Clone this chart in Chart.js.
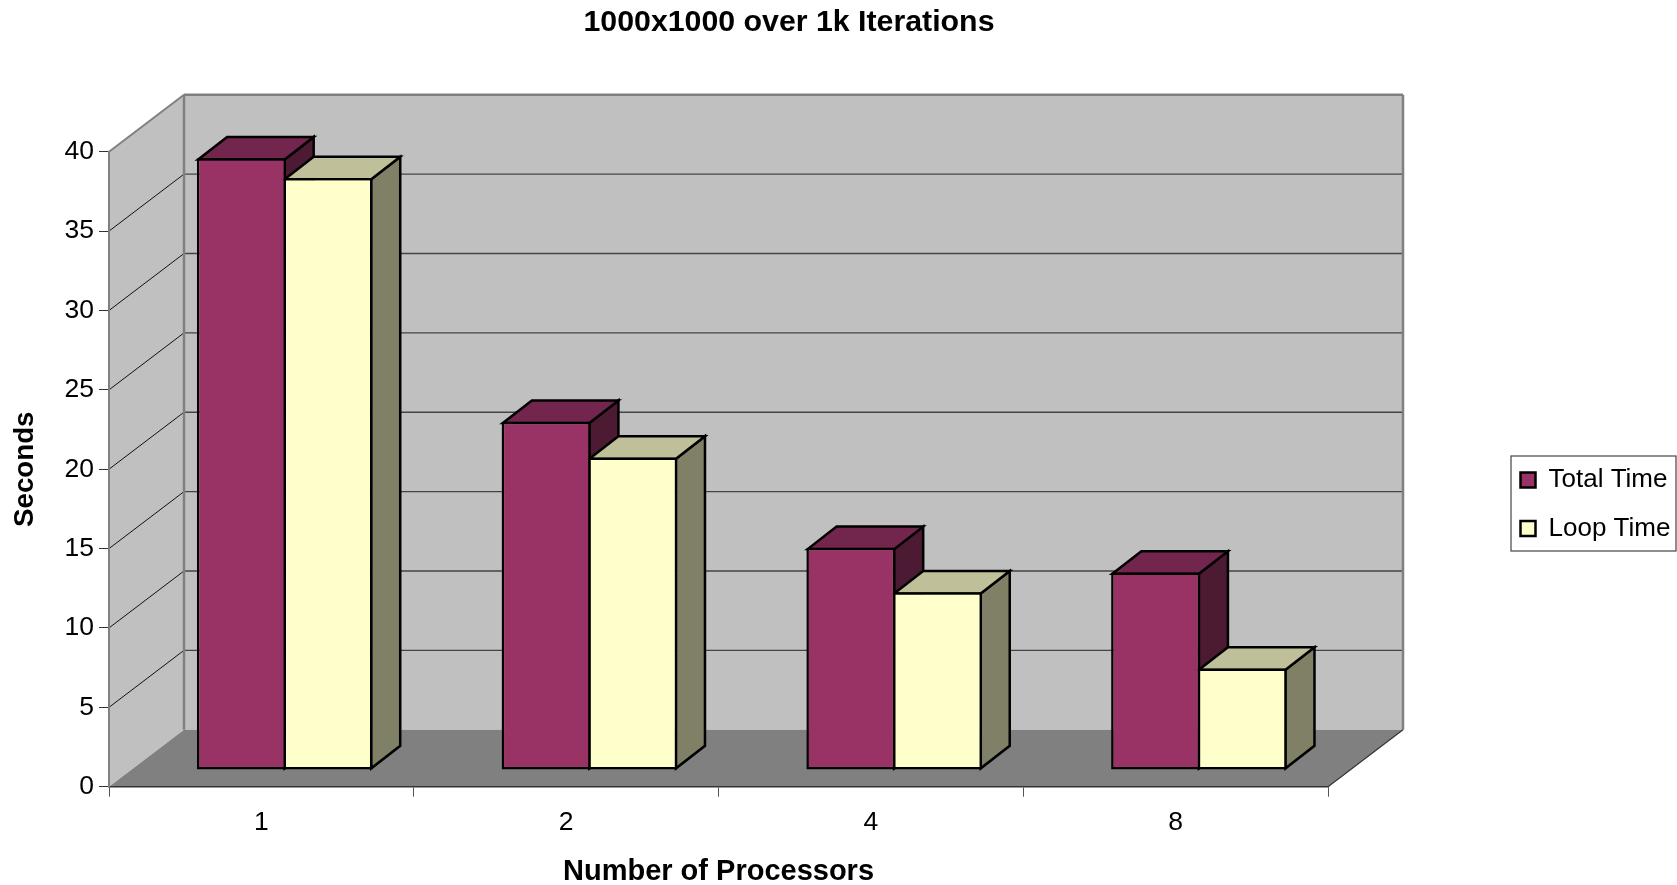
<!DOCTYPE html>
<html>
<head>
<meta charset="utf-8">
<title>1000x1000 over 1k Iterations</title>
<script src="https://cdn.jsdelivr.net/npm/chart.js@4"></script>
<style>
  html, body { margin: 0; padding: 0; background: #fff; }
  canvas { display: block; }
</style>
</head>
<body>
<canvas id="chart" width="1677" height="885"></canvas>
<script>
const processors = ['1', '2', '4', '8'];
const totalTime = [38.55, 21.95, 14.0, 12.45];
const loopTime = [37.3, 19.7, 11.2, 6.4];

const FONT = '"Liberation Sans", Arial, sans-serif';

// oblique depth of the walls and of the bars, in pixels
const wallDepth = { x: 75, y: 57 };
const barDepth = { x: 29, y: 22.5 };
const barShift = { x: 23.3, y: 16.6 };
const barLine = 2.5;
const legendFrame = { x: 1511, y: 456, w: 165, h: 95 };
const legendGap = 22.5;

const faces = {
  'Total Time': { top: '#73264D', side: '#4D1A33' },
  'Loop Time': { top: '#BFBF99', side: '#808066' }
};

function poly(ctx, pts, fill, stroke, lw) {
  ctx.beginPath();
  pts.forEach((p, i) => (i ? ctx.lineTo(p[0], p[1]) : ctx.moveTo(p[0], p[1])));
  ctx.closePath();
  if (fill) { ctx.fillStyle = fill; ctx.fill(); }
  if (stroke) { ctx.strokeStyle = stroke; ctx.lineWidth = lw; ctx.stroke(); }
}

function line(ctx, x1, y1, x2, y2, color, lw) {
  ctx.beginPath();
  ctx.moveTo(x1, y1);
  ctx.lineTo(x2, y2);
  ctx.strokeStyle = color;
  ctx.lineWidth = lw;
  ctx.stroke();
}

const walls = {
  id: 'walls',
  afterLayout(chart) {
    // legend and title sit away from the plot, as in the original sheet
    const lg = chart.legend;
    lg.left = legendFrame.x + 9.5 - legendGap;
    lg.top = legendFrame.y + 11 - legendGap;
    lg.width = 1677 - lg.left;
    lg.height = 885 - lg.top;
    lg.right = 1677;
    lg.bottom = 885;
    const tb = chart.titleBlock;
    tb.left = 0; tb.right = 1578; tb.width = 1578;
  },
  beforeDraw(chart) {
    const ctx = chart.ctx;
    const { left, right, top, bottom } = chart.chartArea;
    const dx = wallDepth.x, dy = wallDepth.y;
    ctx.save();
    poly(ctx, [[left + dx, top - dy], [right + dx, top - dy], [right + dx, bottom - dy], [left + dx, bottom - dy]], '#C0C0C0');
    poly(ctx, [[left, top], [left + dx, top - dy], [left + dx, bottom - dy], [left, bottom]], '#C0C0C0');
    poly(ctx, [[left, bottom], [left + dx, bottom - dy], [right + dx, bottom - dy], [right, bottom]], '#808080');

    chart.scales.y.ticks.forEach((t) => {
      if (t.value === 0 || t.value === 40) return;
      const y = chart.scales.y.getPixelForValue(t.value);
      line(ctx, left, y, left + dx, y - dy, '#111', 1);
      line(ctx, left + dx, y - dy, right + dx, y - dy, '#444', 1.4);
    });

    line(ctx, left, top, left + dx, top - dy, '#808080', 2);
    line(ctx, left + dx, top - dy, right + dx, top - dy, '#808080', 2.5);
    line(ctx, left + dx, top - dy, left + dx, bottom - dy, '#808080', 2.5);
    line(ctx, right + dx, top - dy, right + dx, bottom - dy, '#808080', 2.5);
    line(ctx, right, bottom, right + dx, bottom - dy, '#333', 1.2);

    // legend frame
    ctx.strokeStyle = '#444';
    ctx.lineWidth = 1.2;
    ctx.strokeRect(legendFrame.x, legendFrame.y, legendFrame.w, legendFrame.h);
    ctx.restore();
  },
  beforeDatasetsDraw(chart) {
    const ctx = chart.ctx;
    ctx.save();
    ctx.translate(barShift.x, -barShift.y);
    ctx.lineJoin = 'miter';
    const dx = barDepth.x, dy = barDepth.y, inset = barLine / 2;
    chart.data.datasets.forEach((ds, i) => {
      const f = faces[ds.label];
      chart.getDatasetMeta(i).data.forEach((bar) => {
        const l = bar.x - bar.width / 2 + inset, r = bar.x + bar.width / 2 - inset;
        const y = bar.y + inset, b = bar.base - inset;
        poly(ctx, [[r, y], [r + dx, y - dy], [r + dx, b - dy], [r, b]], f.side, '#000', barLine);
        poly(ctx, [[l, y], [l + dx, y - dy], [r + dx, y - dy], [r, y]], f.top, '#000', barLine);
      });
    });
  },
  afterDatasetsDraw(chart) {
    chart.ctx.restore();
  }
};

new Chart(document.getElementById('chart').getContext('2d'), {
  type: 'bar',
  data: {
    labels: processors,
    datasets: [
      { label: 'Total Time', data: totalTime, backgroundColor: '#993366', borderColor: '#000', borderWidth: barLine, borderSkipped: false, clip: false },
      { label: 'Loop Time', data: loopTime, backgroundColor: '#FFFFCC', borderColor: '#000', borderWidth: barLine, borderSkipped: false, clip: false }
    ]
  },
  plugins: [walls],
  options: {
    responsive: false,
    animation: false,
    categoryPercentage: 0.568,
    barPercentage: 1.029,
    layout: { padding: { left: 0, top: 0, right: 349, bottom: 0 } },
    plugins: {
      title: {
        display: true,
        text: '1000x1000 over 1k Iterations',
        color: '#000',
        font: { family: FONT, size: 30.3, weight: 'bold' },
        padding: { top: 4, bottom: 111.4 }
      },
      legend: {
        position: 'chartArea',
        align: 'start',
        labels: {
          color: '#000',
          font: { family: FONT, size: 26 },
          boxWidth: 15,
          boxHeight: 15,
          padding: legendGap
        }
      },
      tooltip: { enabled: false }
    },
    scales: {
      x: {
        afterFit(scale) { scale.height = 98.3; },
        border: { color: '#333', width: 1.5 },
        grid: { drawOnChartArea: false, drawTicks: true, tickLength: 10, color: '#555' },
        ticks: { color: '#000', font: { family: FONT, size: 26.5 }, padding: 10, maxRotation: 0 },
        title: {
          display: true,
          text: 'Number of Processors',
          color: '#000',
          font: { family: FONT, size: 29, weight: 'bold' },
          padding: { top: 0, bottom: -4 }
        }
      },
      y: {
        min: 0,
        max: 40,
        afterFit(scale) { scale.width = 109; },
        border: { color: '#808080', width: 2 },
        grid: { drawOnChartArea: false, drawTicks: true, tickLength: 10, color: '#333' },
        ticks: { stepSize: 5, color: '#000', font: { family: FONT, size: 26.5 }, padding: 5 },
        title: {
          display: true,
          text: 'Seconds',
          color: '#000',
          font: { family: FONT, size: 27.7, weight: 'bold' },
          padding: { top: 9, bottom: 0 }
        }
      }
    }
  }
});
</script>
</body>
</html>
